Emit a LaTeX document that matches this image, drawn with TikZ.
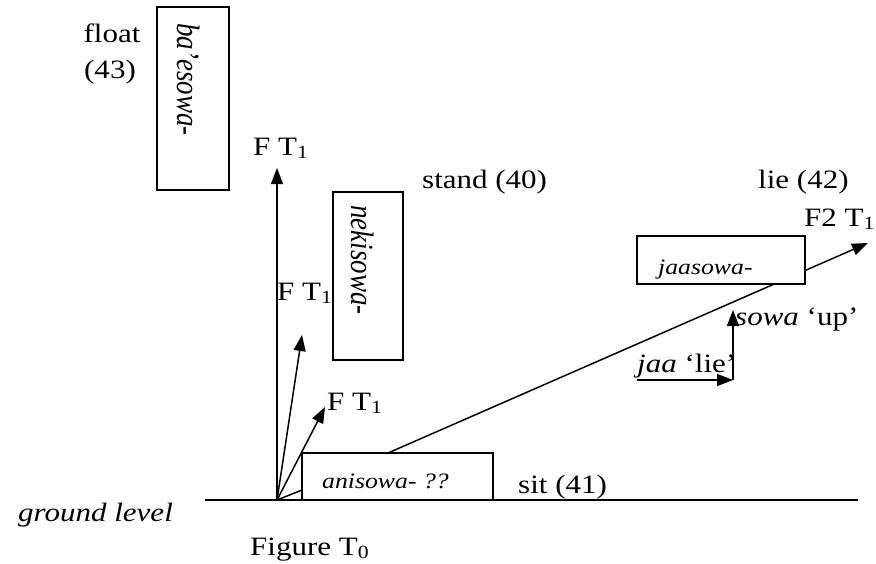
\documentclass[tikz,border=0pt]{standalone}
\usepackage{fontspec}
\setmainfont{Liberation Serif}[FakeStretch=1.17]
\newfontfamily\rotfont{Liberation Serif}
\usetikzlibrary{arrows.meta}
\begin{document}
\begin{tikzpicture}[x=1pt,y=-1pt,
  lbl/.style={inner sep=0pt, anchor=base west, font=\fontsize{26.5}{31}\selectfont},
  clbl/.style={inner sep=0pt, anchor=base, font=\fontsize{26.5}{31}\selectfont},
  boxtxt/.style={inner sep=0pt, anchor=base west, font=\fontsize{22}{26}\selectfont\itshape},
  rottxt/.style={inner sep=0pt, anchor=base west, rotate=-90, font=\rotfont\fontsize{27}{32}\selectfont\itshape},
  wbox/.style={draw, line width=1.4pt, fill=white, inner sep=0pt},
  arr/.style={line width=1.5pt, -{Triangle[length=16pt,width=12pt]}},
  ln/.style={line width=1.5pt}]
\useasboundingbox (0,0) rectangle (876,563);
% coordinates
\coordinate (O) at (277,500);
\coordinate (g0) at (205,500);
\coordinate (g1) at (858,500);
\coordinate (t1) at (277,168);
\coordinate (t2) at (302,335);
\coordinate (t3) at (325,407);
\coordinate (t4) at (302,490);
\coordinate (ls) at (388,453);
\coordinate (le) at (868,243);
\coordinate (h0) at (637,380);
\coordinate (h1) at (733,380);
\coordinate (v1) at (733,310);
% lines and arrows
\draw[ln] (g0) -- (g1);
\draw[arr] (O) -- (t1);
\draw[arr] (O) -- (t2);
\draw[arr] (O) -- (t3);
\draw[ln] (O) -- (t4);
\draw[arr] (ls) -- (le);
\draw[arr] (h0) -- (h1);
\draw[arr] (h1) -- (v1);
% boxes
\node[wbox, minimum width=72pt, minimum height=183pt] (bb) at (193,98.5) {};
\node[wbox, minimum width=70pt, minimum height=168pt] (nb) at (368,276) {};
\node[wbox, minimum width=168pt, minimum height=48pt] (jb) at (721,260) {};
\node[wbox, minimum width=191pt, minimum height=47pt] (ab) at (397.5,476.5) {};
% rotated texts
\node[rottxt] (bt) at (177,23) {\scalebox{1}[1.2]{ba’esowa-}};
\node[rottxt] (nt) at (351,205) {\scalebox{1}[1.2]{nekisowa-}};
% box texts
\node[boxtxt] (jt) at (658,274) {jaasowa-};
\node[boxtxt] (at) at (322,488) {anisowa- ??};
% labels
\node[clbl] (fl) at (112,42) {float};
\node[clbl] (fn) at (110,78) {(43)};
\node[lbl] (f1) at (253,155) {F T\textsubscript{1}};
\node[lbl] (f2) at (277,300) {F T\textsubscript{1}};
\node[lbl] (f3) at (327,410) {F T\textsubscript{1}};
\node[lbl] (st) at (422,188) {stand (40)};
\node[lbl] (li) at (758,188) {lie (42)};
\node[lbl] (f4) at (804,226) {F2 T\textsubscript{1}};
\node[lbl] (si) at (518,493) {sit (41)};
\node[lbl] (gl) at (18,521) {\textit{ground level}};
\node[lbl] (fg) at (250,555) {Figure T\textsubscript{0}};
\node[lbl] (jl) at (637,372) {\textit{jaa} ‘lie’};
\node[lbl] (su) at (735,325) {\textit{sowa} ‘up’};
\end{tikzpicture}
\end{document}
